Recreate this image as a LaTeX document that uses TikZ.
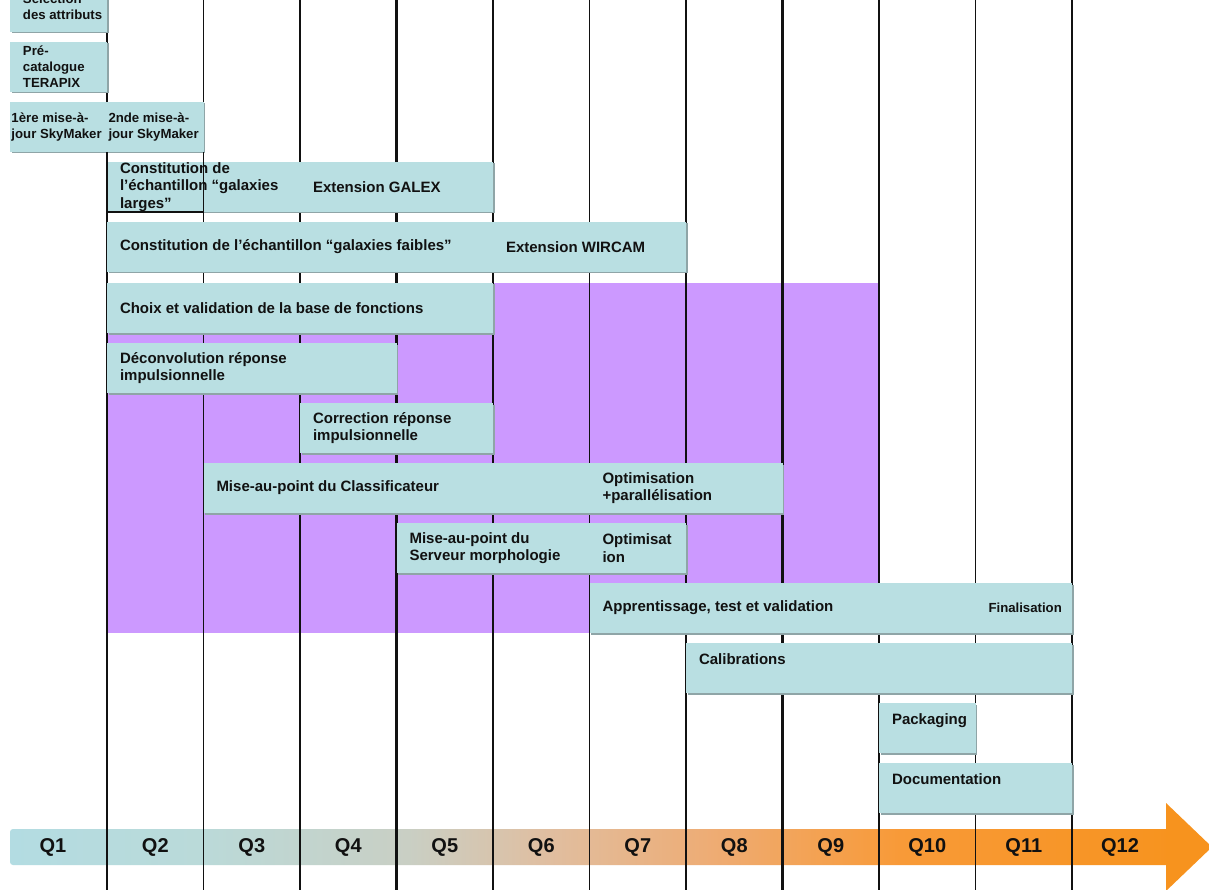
\documentclass[tikz,border=0pt]{standalone}
\usepackage{fontspec}
\setmainfont[Ligatures=TeX]{Liberation Sans}
\usetikzlibrary{fit}
\definecolor{boxc}{HTML}{B9DFE2}
\definecolor{shadc}{HTML}{8FA5A7}
\definecolor{purp}{HTML}{CC99FF}
\definecolor{linec}{HTML}{111111}
\definecolor{arrowc}{HTML}{F7931E}
\definecolor{ga}{HTML}{B3DCE2}
\definecolor{gb}{HTML}{BADAD9}
\definecolor{gc}{HTML}{C9CFC4}
\definecolor{gd}{HTML}{E0BEA0}
\definecolor{ge}{HTML}{EEAC74}
\definecolor{gf}{HTML}{F89A38}
\definecolor{gg}{HTML}{F7931E}
\pgfdeclarehorizontalshading{qbar}{100bp}{color(0bp)=(ga); color(25bp)=(ga); color(33bp)=(gb); color(42bp)=(gc); color(48bp)=(gd); color(55bp)=(ge); color(63bp)=(gf); color(75bp)=(gg); color(100bp)=(gg)}
\tikzset{
  taskbox/.style={rectangle, fill=boxc, draw=none, inner sep=0pt},
  tasktext/.style={inner sep=0pt, align=left, text=linec, font=\bfseries\fontsize{15}{17.5}\selectfont},
  smalltext/.style={tasktext, font=\bfseries\fontsize{13.2}{16}\selectfont},
  gridthin/.style={draw=linec, line width=1.4pt},
  gridthick/.style={draw=linec, line width=2.8pt},
  qlabel/.style={inner sep=0pt, text=linec, font=\bfseries\fontsize{20}{24}\selectfont}
}
\newcommand\tbox[7]{% name, x1, x2, ytop, pad, textstyle, text
  \fill[shadc] (#2+1.5,#4+1.5) rectangle (#3+1.5,#4+51.5);
  \coordinate (#1a) at (#2,#4);
  \coordinate (#1b) at (#3,#4+50);
  \node[taskbox, fit=(#1a)(#1b)] (#1) {};
  \node[#6, anchor=west] (#1t) at ([xshift=#5]#1.west) {#7};
}
\begin{document}
\begin{tikzpicture}[x=1pt,y=-1pt]
\useasboundingbox (0,0) rectangle (1209,890);
\fill[white] (0,0) rectangle (1209,890);
% purple region
\fill[purp] (107,283) rectangle (879,633);
% time bar
\shade[shading=qbar, rounded corners=3] (10,829) rectangle (1180,865);
\fill[arrowc] (1166,803) -- (1212,847) -- (1166,891) -- cycle;
% grid lines
\foreach \x in {107,203.5,300,493,589.5,686,879,975.5,1072}{
  \draw[gridthin] (\x,0) -- (\x,890);
}
\foreach \x in {396.5,782.5}{
  \draw[gridthick] (\x,0) -- (\x,890);
}
% tasks
\tbox{sel}{10}{107}{-18}{13}{smalltext}{Sélection\\des attributs}
\tbox{pre}{10}{107}{42}{13}{smalltext}{Pré-\\catalogue\\TERAPIX}
\tbox{skya}{10}{107}{102}{1.5}{smalltext}{1ère mise-à-\\jour SkyMaker}
\tbox{skyb}{107}{203.5}{102}{1.5}{smalltext}{2nde mise-à-\\jour SkyMaker}
\tbox{larg}{107}{300}{162}{13}{tasktext}{Constitution de\\l'échantillon “galaxies\\larges”}
\tbox{galex}{300}{493}{162}{13}{tasktext}{Extension GALEX}
\tbox{faib}{107}{493}{222}{13}{tasktext}{Constitution de l'échantillon “galaxies faibles”}
\tbox{wircam}{493}{686}{222}{13}{tasktext}{Extension WIRCAM}
\tbox{choix}{107}{493}{283}{13}{tasktext}{Choix et validation de la base de fonctions}
\tbox{deconv}{107}{396.5}{343}{13}{tasktext}{Déconvolution réponse\\impulsionnelle}
\tbox{corr}{300}{493}{403}{13}{tasktext}{Correction réponse\\impulsionnelle}
\tbox{classif}{203.5}{589.5}{463}{13}{tasktext}{Mise-au-point du Classificateur}
\tbox{optpar}{589.5}{782.5}{463}{13}{tasktext}{Optimisation\\+parallélisation}
\tbox{serv}{396.5}{589.5}{523}{13}{tasktext}{Mise-au-point du\\Serveur morphologie}
\tbox{opt}{589.5}{686}{523}{13}{tasktext}{Optimisat\\ion}
\tbox{appr}{589.5}{975.5}{583}{13}{tasktext}{Apprentissage, test et validation}
\tbox{fin}{975.5}{1072}{583}{13}{smalltext}{Finalisation}
\tbox{calib}{686}{1072}{643}{13}{tasktext}{Calibrations\\\mbox{}}
\tbox{pack}{879}{975.5}{703}{13}{tasktext}{Packaging\\\mbox{}}
\tbox{doc}{879}{1072}{763}{13}{tasktext}{Documentation\\\mbox{}}
% overlay outline on the "galaxies larges" box
\draw[draw=linec, line width=1.2pt] (107,152) -- (107,212) -- (203.5,212) -- (203.5,152);
% quarter labels
\node[qlabel] (q1) at (53,847) {Q1};
\node[qlabel] (q2) at (155.3,847) {Q2};
\node[qlabel] (q3) at (251.8,847) {Q3};
\node[qlabel] (q4) at (348.3,847) {Q4};
\node[qlabel] (q5) at (444.8,847) {Q5};
\node[qlabel] (q6) at (541.3,847) {Q6};
\node[qlabel] (q7) at (637.8,847) {Q7};
\node[qlabel] (q8) at (734.3,847) {Q8};
\node[qlabel] (q9) at (830.8,847) {Q9};
\node[qlabel] (q10) at (927.3,847) {Q10};
\node[qlabel] (q11) at (1023.8,847) {Q11};
\node[qlabel] (q12) at (1120,847) {Q12};
\end{tikzpicture}
\end{document}
